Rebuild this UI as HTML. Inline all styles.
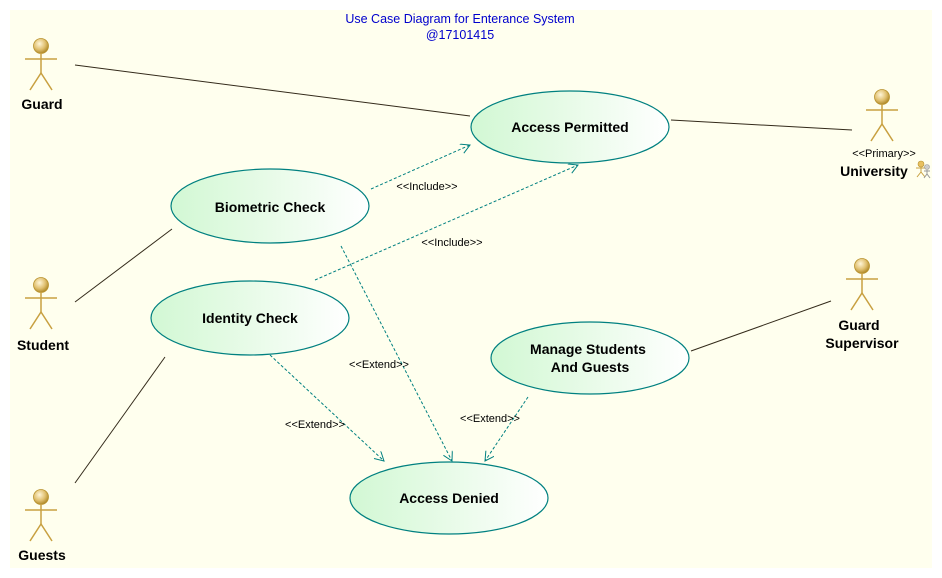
<!DOCTYPE html>
<html><head><meta charset="utf-8"><style>
html,body{margin:0;padding:0;background:#fff;}
svg{display:block;}
text{font-family:"Liberation Sans",sans-serif;}
</style></head><body>
<svg width="942" height="578" viewBox="0 0 942 578" xmlns="http://www.w3.org/2000/svg">
<defs>
<linearGradient id="g" x1="0" x2="1" y1="0" y2="0">
<stop offset="0" stop-color="#d2f8d4"/><stop offset="0.5" stop-color="#e8fbe8"/><stop offset="1" stop-color="#ffffff"/>
</linearGradient>
<radialGradient id="h" cx="0.4" cy="0.35" r="0.65">
<stop offset="0" stop-color="#fff6d8"/><stop offset="0.6" stop-color="#e0c070"/><stop offset="1" stop-color="#b08a2a"/>
</radialGradient>
<marker id="a" markerWidth="12" markerHeight="12" refX="10" refY="5" orient="auto" markerUnits="userSpaceOnUse">
<path d="M1,0 L10,5 L1,10" fill="none" stroke="#008080" stroke-width="1"/>
</marker>
<g id="actor">
<circle cx="0" cy="0" r="7.5" fill="url(#h)" stroke="#b8922e" stroke-width="0.8"/>
<line x1="-16" y1="13" x2="16" y2="13" stroke="#c8a040" stroke-width="1.5"/>
<line x1="0" y1="7" x2="0" y2="27" stroke="#c8a040" stroke-width="1.5"/>
<path d="M-11,44 L0,27 L11,44" fill="none" stroke="#c8a040" stroke-width="1.5"/>
</g>
</defs>
<rect x="10" y="10" width="922" height="558" fill="#ffffee"/>
<text x="460" y="23" text-anchor="middle" font-size="12.5" fill="#0000cc">Use Case Diagram for Enterance System</text>
<text x="460" y="39" text-anchor="middle" font-size="12.5" fill="#0000cc">@17101415</text>

<g stroke="#332a1a" stroke-width="1" fill="none">
<line x1="75" y1="65" x2="470" y2="116"/>
<line x1="671" y1="120" x2="852" y2="130"/>
<line x1="75" y1="302" x2="172" y2="229"/>
<line x1="75" y1="483" x2="165" y2="357"/>
<line x1="691" y1="351" x2="831" y2="301"/>
</g>
<g stroke="#008080" stroke-width="1" fill="none" stroke-dasharray="3,2" marker-end="url(#a)">
<line x1="371" y1="189" x2="470" y2="145"/>
<line x1="315" y1="280" x2="578" y2="165"/>
<line x1="341" y1="246" x2="452" y2="461"/>
<line x1="270" y1="355" x2="384" y2="461"/>
<line x1="528" y1="397" x2="485" y2="461"/>
</g>
<g font-size="11" fill="#000">
<text x="427" y="190" text-anchor="middle">&lt;&lt;Include&gt;&gt;</text>
<text x="452" y="246" text-anchor="middle">&lt;&lt;Include&gt;&gt;</text>
<text x="379" y="368" text-anchor="middle">&lt;&lt;Extend&gt;&gt;</text>
<text x="315" y="428" text-anchor="middle">&lt;&lt;Extend&gt;&gt;</text>
<text x="490" y="422" text-anchor="middle">&lt;&lt;Extend&gt;&gt;</text>
</g>

<g stroke="#008080" stroke-width="1.2" fill="url(#g)">
<ellipse cx="570" cy="127" rx="99" ry="36"/>
<ellipse cx="270" cy="206" rx="99" ry="37"/>
<ellipse cx="250" cy="318" rx="99" ry="37"/>
<ellipse cx="590" cy="358" rx="99" ry="36"/>
<ellipse cx="449" cy="498" rx="99" ry="36"/>
</g>
<g font-size="14" font-weight="bold" fill="#000" text-anchor="middle">
<text x="570" y="132">Access Permitted</text>
<text x="270" y="212">Biometric Check</text>
<text x="250" y="323">Identity Check</text>
<text x="588" y="354">Manage Students</text>
<text x="590" y="372">And Guests</text>
<text x="449" y="503">Access Denied</text>
</g>

<use href="#actor" x="41" y="46"/>
<use href="#actor" x="41" y="285"/>
<use href="#actor" x="41" y="497"/>
<use href="#actor" x="882" y="97"/>
<use href="#actor" x="862" y="266"/>
<g font-size="14" font-weight="bold" fill="#000" text-anchor="middle">
<text x="42" y="109">Guard</text>
<text x="43" y="350">Student</text>
<text x="42" y="560">Guests</text>
<text x="874" y="176">University</text>
<text x="859" y="330">Guard</text>
<text x="862" y="348">Supervisor</text>
</g>
<text x="884" y="157" font-size="11" text-anchor="middle" fill="#000">&lt;&lt;Primary&gt;&gt;</text>
<g transform="translate(921,164)">
<circle cx="0" cy="0" r="3" fill="#e8c060" stroke="#b8922e" stroke-width="0.6"/>
<path d="M-5,4 L5,4 M0,3 L0,8 M-4,13 L0,8 L4,13" stroke="#c8a040" stroke-width="1" fill="none"/>
<circle cx="6" cy="3" r="2.5" fill="#ccc" stroke="#999" stroke-width="0.6"/>
<path d="M3,7 L9,7 M6,6 L6,10 M3,14 L6,10 L9,14" stroke="#999" stroke-width="1" fill="none"/>
</g>
</svg>
</body></html>
